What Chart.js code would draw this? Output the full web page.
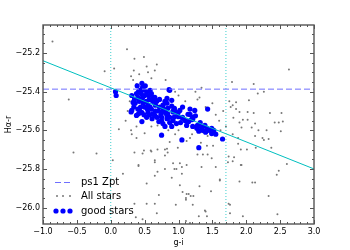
<!DOCTYPE html>
<html>
<head>
<meta charset="utf-8">
<script src="https://cdn.jsdelivr.net/npm/chart.js@4/dist/chart.umd.min.js"></script>
<style>
  html, body { margin: 0; padding: 0; background: #fff; }
  #wrap { width: 350px; height: 250px; }
</style>
</head>
<body>
<div id="wrap"><canvas id="chart" width="350" height="250"></canvas></div>
<script>
// ---- data ----
const xTicks = [-1.0, -0.5, 0.0, 0.5, 1.0, 1.5, 2.0, 2.5, 3.0];
const yTicks = [-26.0, -25.8, -25.6, -25.4, -25.2];

// all stars (g-i, Ha-r)
const allX = [-0.86,-0.62,-0.55,-0.21,-0.09,0.05,0.03,0.12,0.18,0.24,0.35,0.49,0.68,0.53,0.34,0.65,0.81,0.33,0.30,0.38,0.55,0.60,0.42,
  1.79,2.63,2.11,2.17,2.26,1.34,1.25,1.28,1.31,1.85,2.04,1.80,1.77,1.85,1.90,2.02,2.11,2.35,2.52,2.42,2.48,2.54,2.02,2.13,1.95,1.90,1.93,1.81,2.08,2.18,2.30,2.51,2.13,2.24,2.33,1.80,2.26,2.14,2.01,1.92,2.37,
  2.60,2.48,2.45,2.13,1.92,1.74,1.82,1.73,1.55,1.61,1.76,2.33,2.46,1.95,1.40,1.42,1.30,1.18,1.12,1.11,1.02,1.05,1.12,1.28,1.43,1.51,1.43,1.88,1.88,1.42,1.33,1.12,1.17,0.99,0.97,1.17,
  0.31,0.38,0.49,0.53,0.59,0.65,0.71,0.65,0.80,0.87,0.83,0.90,0.30,0.38,0.50,0.60,0.69,0.60,0.69,0.80,0.35,0.47,0.84,0.80,0.41,0.65,0.92,1.02,0.41,0.65,0.69,0.94,1.05,1.06,1.15,1.22,1.11,1.21,0.96,1.34,1.31,1.39,0.53,0.35,0.68,0.37,0.47,1.11,
  1.00,1.10,0.95,1.40,1.55,1.60,1.50,1.66,1.70,1.62,0.85,1.00,0.25,0.28,0.22,1.75,1.20,1.35,0.95,
  1.54,1.74,1.61,1.90,2.09,1.48,1.36,1.49,1.80,1.93,1.76];
const allY = [-25.14,-25.44,-25.715,-25.72,-25.295,-25.28,-25.755,-25.595,-25.825,-25.18,-25.23,-25.22,-25.26,-25.27,-25.29,-25.29,-25.34,-25.34,-25.32,-25.36,-25.30,-25.33,-25.31,
  -25.35,-25.285,-25.36,-25.41,-25.40,-25.38,-25.40,-25.44,-25.43,-25.455,-25.445,-25.47,-25.48,-25.49,-25.505,-25.505,-25.51,-25.51,-25.51,-25.56,-25.56,-25.555,-25.545,-25.565,-25.545,-25.56,-25.585,-25.535,-25.585,-25.60,-25.60,-25.605,-25.63,-25.64,-25.645,-25.62,-25.65,-25.69,-25.70,-25.70,-25.69,
  -25.775,-25.81,-25.83,-25.87,-25.78,-25.735,-25.74,-25.765,-25.79,-25.855,-25.985,-25.94,-26.035,-26.045,-26.02,-26.045,-26.045,-25.94,-25.93,-25.95,-25.885,-25.825,-25.78,-25.725,-25.725,-25.68,-25.63,-25.67,-25.64,-25.68,-25.665,-25.655,-25.64,-25.69,-25.80,-26.08,
  -25.62,-25.64,-25.705,-25.875,-25.705,-25.755,-25.935,-25.98,-25.80,-25.66,-25.695,-25.845,-25.60,-25.58,-25.615,-25.58,-25.575,-25.71,-25.70,-25.70,-25.715,-25.72,-25.715,-25.73,-25.78,-25.765,-25.77,-25.77,-25.785,-25.835,-25.815,-25.80,-25.79,-25.92,-25.93,-25.94,-25.96,-25.985,-25.985,-25.79,-25.89,-26.015,-25.98,-25.98,-26.03,-26.05,-26.06,-26.07,
  -25.42,-25.45,-25.40,-25.48,-25.52,-25.55,-25.46,-25.50,-25.58,-25.60,-25.60,-25.60,-25.50,-25.45,-25.55,-25.45,-25.62,-25.61,-25.62,
  -26.08,-25.98,-25.86,-25.865,-25.87,-25.915,-25.725,-25.745,-25.76,-25.78,-26.03];

// good stars
const goodX = [0.07,0.08,0.46,0.47,0.43,0.58,0.31,0.38,0.60,0.65,0.87,0.83,0.90,0.77,0.84,0.94,0.99,0.31,0.33,0.38,0.46,0.55,0.65,0.75,0.83,
  0.83,0.90,0.94,1.02,1.06,1.14,1.17,1.21,1.24,0.87,0.94,1.06,0.75,0.81,0.92,0.99,1.06,1.17,1.21,1.25,1.28,1.34,1.39,1.42,1.45,1.49,1.49,1.27,1.21,1.12,
  0.83,0.75,0.87,0.92,1.30,1.05,1.65,0.75,0.30,0.41,0.46,0.53,0.62,0.68,0.71,0.77,0.84,0.92,0.86,1.43,
  0.40,0.42,0.45,0.48,0.50,0.52,0.55,0.57,0.50,0.44,0.36,0.40,0.53,0.56,0.62,0.66,0.68,0.72,0.70,0.60,0.48,0.51,0.45,0.63,0.58,0.35,0.34,0.39,0.72,0.78,
  0.80,0.74,0.66,0.57,0.49,0.43,0.61,0.54,0.47,0.41,1.00,1.10,1.15,1.32,1.36,1.40,1.30,0.97,1.03,1.19,1.55,1.52,0.90,0.80];
const goodY = [-25.40,-25.42,-25.357,-25.378,-25.393,-25.393,-25.42,-25.41,-25.41,-25.43,-25.393,-25.435,-25.445,-25.47,-25.487,-25.487,-25.51,-25.497,-25.456,-25.523,-25.508,-25.508,-25.523,-25.533,-25.523,
  -25.46,-25.475,-25.497,-25.497,-25.48,-25.517,-25.49,-25.533,-25.497,-25.533,-25.53,-25.538,-25.505,-25.51,-25.50,-25.51,-25.533,-25.518,-25.543,-25.525,-25.575,-25.585,-25.575,-25.59,-25.60,-25.59,-25.617,-25.59,-25.58,-25.575,
  -25.54,-25.55,-25.56,-25.55,-25.69,-25.65,-25.645,-25.625,-25.505,-25.515,-25.555,-25.533,-25.515,-25.533,-25.555,-25.565,-25.515,-25.505,-25.39,-25.49,
  -25.43,-25.45,-25.44,-25.46,-25.42,-25.45,-25.47,-25.44,-25.48,-25.48,-25.46,-25.49,-25.40,-25.42,-25.45,-25.47,-25.45,-25.48,-25.50,-25.49,-25.39,-25.37,-25.41,-25.43,-25.48,-25.44,-25.48,-25.37,-25.44,-25.49,
  -25.45,-25.52,-25.50,-25.52,-25.52,-25.50,-25.54,-25.49,-25.43,-25.40,-25.53,-25.55,-25.555,-25.56,-25.60,-25.61,-25.605,-25.565,-25.56,-25.545,-25.62,-25.60,-25.58,-25.58];

// reference lines
const zptY = -25.387;
const fitX = [-1.0, 3.0];
const fitY = [-25.24, -25.80];
const cutX = [0.0, 1.7];

const xMin = -1.0, xMax = 3.0, yMin = -26.085, yMax = -25.055;

const toPts = (xs, ys) => xs.map((x, i) => ({ x: x, y: ys[i] }));
const fmt = v => v.toFixed(1).replace('-', '\u2212');

const axisColor = '#555';

// frame + inward ticks, matplotlib style
const framePlugin = {
  id: 'frame',
  afterDraw(chart) {
    const ctx = chart.ctx, a = chart.chartArea;
    const sx = chart.scales.x, sy = chart.scales.y;
    ctx.save();
    ctx.strokeStyle = axisColor;
    ctx.lineWidth = 1;
    ctx.beginPath();
    for (let i = 0; i <= 40; i++) {
      const v = xMin + i * 0.1;
      const px = Math.round(sx.getPixelForValue(v)) + 0.5;
      const len = (i % 5 === 0) ? 4 : 2;
      ctx.moveTo(px, a.bottom); ctx.lineTo(px, a.bottom - len);
      ctx.moveTo(px, a.top); ctx.lineTo(px, a.top + len);
    }
    for (let i = 0; i <= 20; i++) {
      const v = -26.05 + i * 0.05;
      if (v > yMax) break;
      const py = Math.round(sy.getPixelForValue(v)) + 0.5;
      const major = Math.abs((v * 10) % 2) < 0.01 || Math.abs(Math.abs((v * 10) % 2) - 2) < 0.01;
      const len = major ? 4 : 2;
      ctx.moveTo(a.left, py); ctx.lineTo(a.left + len, py);
      ctx.moveTo(a.right, py); ctx.lineTo(a.right - len, py);
    }
    ctx.stroke();
    ctx.lineWidth = 1.4;
    ctx.strokeRect(a.left, a.top, a.right - a.left, a.bottom - a.top);

    // legend
    ctx.font = '10px "DejaVu Sans"';
    ctx.fillStyle = '#000';
    ctx.textBaseline = 'middle';
    ctx.strokeStyle = '#6f6fff';
    ctx.lineWidth = 1;
    ctx.setLineDash([6, 3]);
    ctx.beginPath(); ctx.moveTo(55, 182.5); ctx.lineTo(71, 182.5); ctx.stroke();
    ctx.setLineDash([]);
    ctx.fillText('ps1 Zpt', 81, 182);
    ctx.fillStyle = '#777';
    [57, 63, 70].forEach(x => { ctx.beginPath(); ctx.arc(x, 196, 1, 0, Math.PI * 2); ctx.fill(); });
    ctx.fillStyle = '#000';
    ctx.fillText('All stars', 81, 196);
    ctx.fillStyle = '#0000ff';
    [56, 63, 70].forEach(x => { ctx.beginPath(); ctx.arc(x, 211, 2.6, 0, Math.PI * 2); ctx.fill(); });
    ctx.fillStyle = '#000';
    ctx.fillText('good stars', 81, 211);
    ctx.restore();
  }
};

new Chart(document.getElementById('chart'), {
  type: 'scatter',
  data: {
    datasets: [
      {
        label: 'fit',
        data: toPts(fitX, fitY),
        showLine: true,
        borderColor: '#00bfbf',
        borderWidth: 1,
        pointRadius: 0,
        order: 0
      },
      {
        label: 'ps1 Zpt',
        data: [{ x: xMin, y: zptY }, { x: xMax, y: zptY }],
        showLine: true,
        borderColor: '#6f6fff',
        borderWidth: 1,
        borderDash: [6, 3],
        pointRadius: 0,
        order: 1
      },
      {
        label: 'cut0',
        data: [{ x: cutX[0], y: yMin }, { x: cutX[0], y: yMax }],
        showLine: true,
        borderColor: '#3fcfcf',
        borderWidth: 1,
        borderDash: [1, 2],
        pointRadius: 0,
        order: 2
      },
      {
        label: 'cut1',
        data: [{ x: cutX[1], y: yMin }, { x: cutX[1], y: yMax }],
        showLine: true,
        borderColor: '#3fcfcf',
        borderWidth: 1,
        borderDash: [1, 2],
        pointRadius: 0,
        order: 2
      },
      {
        label: 'good stars',
        data: toPts(goodX, goodY),
        backgroundColor: '#0000ff',
        borderWidth: 0,
        pointRadius: 2.6,
        order: 3
      },
      {
        label: 'All stars',
        data: toPts(allX, allY),
        backgroundColor: '#777',
        borderWidth: 0,
        pointRadius: 1,
        order: 4
      }
    ]
  },
  options: {
    responsive: false,
    animation: false,
    layout: { padding: { left: 0, top: 25, right: 36, bottom: 0 } },
    plugins: { legend: { display: false }, tooltip: { enabled: false } },
    scales: {
      x: {
        type: 'linear',
        min: xMin, max: xMax,
        grid: { display: false, drawTicks: false },
        border: { display: false },
        afterBuildTicks: s => { s.ticks = xTicks.map(v => ({ value: v })); },
        afterFit: s => { s.height = 26; },
        ticks: {
          color: '#000', padding: 3, maxRotation: 0, autoSkip: false,
          font: { family: 'DejaVu Sans', size: 8 },
          callback: v => fmt(v)
        },
        title: {
          display: true, text: 'g-i', color: '#000',
          font: { family: 'DejaVu Sans', size: 8 },
          padding: { top: 0, bottom: 2 }
        }
      },
      y: {
        type: 'linear',
        min: yMin, max: yMax,
        grid: { display: false, drawTicks: false },
        border: { display: false },
        afterBuildTicks: s => { s.ticks = yTicks.map(v => ({ value: v })); },
        afterFit: s => { s.width = 43; },
        ticks: {
          color: '#000', padding: 3, autoSkip: false,
          font: { family: 'DejaVu Sans', size: 8 },
          callback: v => fmt(v)
        },
        title: {
          display: true, text: 'H\u03b1-r', color: '#000',
          font: { family: 'DejaVu Sans', size: 8 },
          padding: { top: 4, bottom: 0 }
        }
      }
    }
  },
  plugins: [framePlugin]
});
</script>
</body>
</html>
